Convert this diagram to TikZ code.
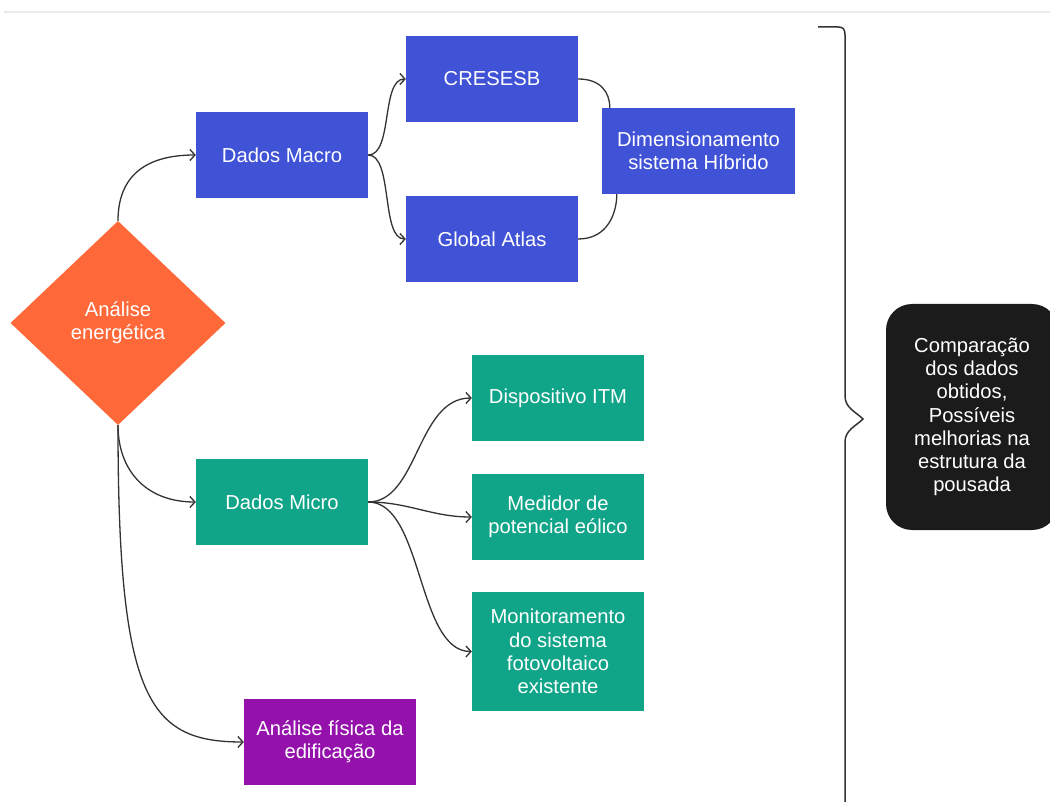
\documentclass[tikz,border=0pt]{standalone}
\usepackage{fontspec}
\setmainfont{Liberation Sans}
\usetikzlibrary{shapes.geometric,arrows.meta}
\definecolor{cblue}{HTML}{4052D6}
\definecolor{cgreen}{HTML}{10A488}
\definecolor{cpurple}{HTML}{9511AB}
\definecolor{corange}{HTML}{FF6939}
\definecolor{cblack}{HTML}{1B1B1B}
\definecolor{cline}{HTML}{333333}
\tikzset{
  box/.style={rectangle, draw=none, text=white, align=center, inner sep=0pt,
    minimum width=172pt, minimum height=86pt,
    font=\fontsize{20.2}{23.2}\selectfont},
  bluebox/.style={box, fill=cblue},
  greenbox/.style={box, fill=cgreen},
  purplebox/.style={box, fill=cpurple},
  conn/.style={draw=cline, line width=1.3pt},
  arr/.style={conn, -{Straight Barb[length=5pt,width=11pt]}},
}
\begin{document}
\begin{tikzpicture}[x=1pt,y=-1pt]
\clip (0,0) rectangle (1050,802);
\fill[white] (0,0) rectangle (1050,802);
\draw[black!8, line width=1.5pt] (4,12) -- (1050,12);

\node[diamond, fill=corange, text=white, align=center, inner sep=0pt,
  minimum width=215pt, minimum height=204pt,
  font=\fontsize{20.2}{23.2}\selectfont] (diam) at (118,323) {Análise\\energética};

\node[bluebox] (macro) at (282,155) {Dados Macro};
\node[bluebox] (cres) at (492,79) {CRESESB};
\node[bluebox] (atlas) at (492,239) {Global Atlas};
\node[bluebox, minimum width=193pt] (dim) at (698.5,151) {Dimensionamento\\sistema Híbrido};

\node[greenbox] (micro) at (282,502) {Dados Micro};
\node[greenbox] (disp) at (558,398) {Dispositivo ITM};
\node[greenbox] (med) at (558,517) {Medidor de\\potencial eólico};
\node[greenbox, minimum height=119pt] (mon) at (558,651.5) {Monitoramento\\do sistema\\fotovoltaico\\existente};

\node[purplebox] (fis) at (330,742) {Análise física da\\edificação};

\node[rectangle, rounded corners=26pt, fill=cblack, text=white, align=center,
  inner sep=0pt, minimum width=172pt, minimum height=226pt,
  font=\fontsize{20.2}{23.2}\selectfont] (comp) at (972,417)
  {Comparação\\dos dados\\obtidos,\\Possíveis\\melhorias na\\estrutura da\\pousada};

% connectors
\draw[arr] (diam.north) .. controls +(0,-45) and +(-50,0) .. (macro.west);
\draw[arr] (macro.east) .. controls +(25,0) and +(-25,0) .. (cres.west);
\draw[arr] (macro.east) .. controls +(25,0) and +(-25,0) .. (atlas.west);
\draw[conn] (cres.east) .. controls +(22,0) and +(0,-16) .. ([xshift=8pt]dim.north west);
\draw[conn] (atlas.east) .. controls +(30,0) and +(0,18) .. ([xshift=15pt]dim.south west);

\draw[arr] (diam.south) .. controls +(0,45) and +(-50,0) .. (micro.west);
\draw[arr] (diam.south) .. controls +(0,275) and +(-95,0) .. (fis.west);
\draw[arr] (micro.east) .. controls +(50,0) and +(-55,0) .. (disp.west);
\draw[arr] (micro.east) .. controls +(40,0) and +(-40,0) .. (med.west);
\draw[arr] (micro.east) .. controls +(55,0) and +(-55,0) .. (mon.west);

% brace
\draw[cline, line width=1.5pt] (818,27) -- (838,27)
  .. controls (843,27) and (845,29) .. (845,35)
  -- (845,396)
  .. controls (845,408) and (856,412) .. (863,419)
  .. controls (856,426) and (845,430) .. (845,442)
  -- (845,810);
\end{tikzpicture}
\end{document}
